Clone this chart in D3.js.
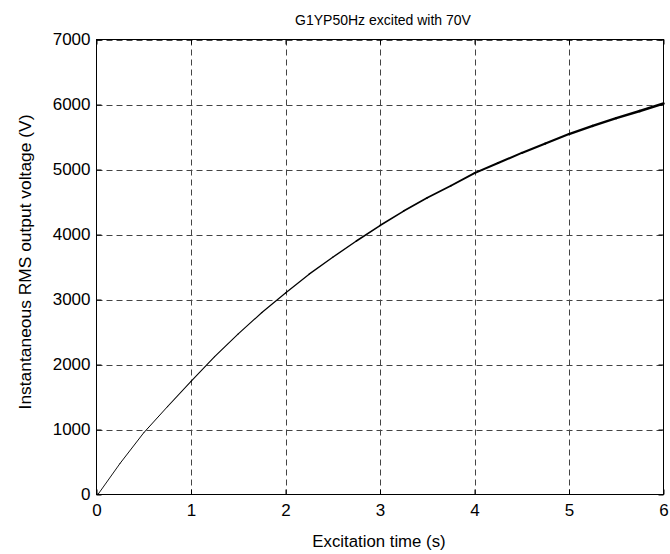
<!DOCTYPE html>
<html>
  <head>
    <script src="https://d3js.org/d3.v7.min.js"></script>
    <style>
body { margin: 0; background: #fff; }
svg text { font-family: "Liberation Sans", Arial, sans-serif; fill: #000; }
    </style>
  </head>
  <body>
    <script>
// values
var times = [0, 0.02, 0.25, 0.5, 0.75, 1, 1.25, 1.5, 1.75, 2, 2.25, 2.5, 2.75, 3,
             3.25, 3.5, 3.75, 4, 4.25, 4.5, 4.75, 5, 5.25, 5.5, 5.75, 6];
var voltages = [0, 10, 480, 950, 1350, 1740, 2120, 2470, 2800, 3100, 3390, 3650, 3900, 4138,
                4360, 4565, 4750, 4945, 5100, 5255, 5400, 5545, 5670, 5790, 5900, 6015];
var xTicks = [0, 1, 2, 3, 4, 5, 6];
var yTicks = [0, 1000, 2000, 3000, 4000, 5000, 6000, 7000];
var title = "G1YP50Hz excited with 70V";
var xLabel = "Excitation time (s)";
var yLabel = "Instantaneous RMS output voltage (V)";

var W = 670, H = 554;
var pLeft = 96.5, pRight = 663.5, pTop = 39.5, pBottom = 494.5;

var svg = d3.select("body").append("svg").attr("width", W).attr("height", H);

var x = d3.scaleLinear().domain([0, 6]).range([pLeft, pRight]);
var y = d3.scaleLinear().domain([0, 7000]).range([pBottom, pTop]);

// grid
var grid = svg.append("g");
grid.selectAll("line.gx").data(xTicks.slice(1, -1)).enter().append("line")
	.attr("x1", function (d) { return Math.round(x(d)) + 0.5; })
	.attr("x2", function (d) { return Math.round(x(d)) + 0.5; })
	.attr("y1", pTop).attr("y2", pBottom)
	.style("stroke", "#444").style("stroke-dasharray", "6,4");
grid.selectAll("line.gy").data(yTicks.slice(1)).enter().append("line")
	.attr("y1", function (d) { return Math.round(y(d)) + 0.5; })
	.attr("y2", function (d) { return Math.round(y(d)) + 0.5; })
	.attr("x1", pLeft).attr("x2", pRight)
	.style("stroke", "#444").style("stroke-dasharray", "6,4");

// curve: drawn as segments getting thicker (signal noise grows)
var pts = times.map(function (t, i) { return [t, voltages[i]]; });
var wScale = d3.scaleLinear().domain([0, 2, 6]).range([0.9, 1.2, 2.6]);
var segs = pts.slice(1).map(function (p, i) { return [pts[i], p]; });
svg.append("g").selectAll("line").data(segs).enter().append("line")
	.attr("x1", function (d) { return x(d[0][0]); })
	.attr("y1", function (d) { return y(d[0][1]); })
	.attr("x2", function (d) { return x(d[1][0]); })
	.attr("y2", function (d) { return y(d[1][1]); })
	.style("stroke", "#000")
	.style("stroke-linecap", "round")
	.style("stroke-width", function (d) { return wScale((d[0][0] + d[1][0]) / 2); });

// axes (MATLAB style: ticks inward, on all four sides)
var fmt = d3.format("d");
var xb = svg.append("g").attr("transform", "translate(0," + pBottom + ")")
	.call(d3.axisBottom(x).tickValues(xTicks).tickSize(-5).tickPadding(9).tickFormat(fmt));
var xt = svg.append("g").attr("transform", "translate(0," + pTop + ")")
	.call(d3.axisTop(x).tickValues(xTicks).tickSize(-5).tickFormat(""));
var yl = svg.append("g").attr("transform", "translate(" + pLeft + ",0)")
	.call(d3.axisLeft(y).tickValues(yTicks).tickSize(-5).tickPadding(6).tickFormat(fmt));
var yr = svg.append("g").attr("transform", "translate(" + pRight + ",0)")
	.call(d3.axisRight(y).tickValues(yTicks).tickSize(-5).tickFormat(""));
[xb, xt, yl, yr].forEach(function (g) {
	g.selectAll("path.domain").remove();
	g.selectAll("text").style("font-size", "17px").style("font-family", "Liberation Sans, Arial, sans-serif");
	g.selectAll("line").style("stroke", "#000");
});

svg.append("rect").attr("x", pLeft).attr("y", pTop)
	.attr("width", pRight - pLeft).attr("height", pBottom - pTop)
	.style("fill", "none").style("stroke", "#000").style("stroke-width", 1);

svg.append("text").attr("x", 383).attr("y", 25)
	.attr("text-anchor", "middle").style("font-size", "14px").text(title);
svg.append("text").attr("x", 379).attr("y", 547)
	.attr("text-anchor", "middle").style("font-size", "16.8px").text(xLabel);
svg.append("text").attr("transform", "translate(31,262) rotate(-90)")
	.attr("text-anchor", "middle").style("font-size", "17.4px").text(yLabel);
    </script>
  </body>
</html>
